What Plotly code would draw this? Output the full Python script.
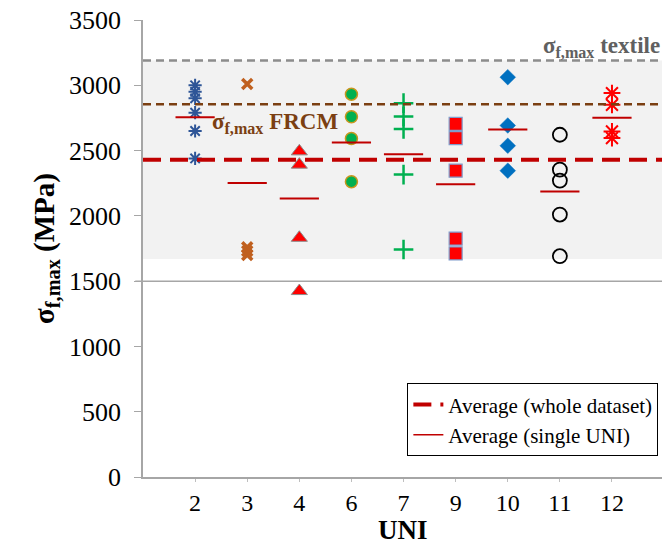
import plotly.graph_objects as go

uni_labels = ["2", "3", "4", "6", "7", "9", "10", "11", "12"]
uni_values = {
    "2": [3000, 2950, 2900, 2790, 2650, 2440],
    "3": [3010, 1760, 1730, 1700],
    "4": [2494, 2392, 1832, 1424],
    "6": [2932, 2759, 2593, 2262],
    "7": [2863, 2761, 2665, 2316, 1742],
    "9": [2705, 2596, 2346, 1826, 1712],
    "10": [3062, 2692, 2537, 2346],
    "11": [2621, 2354, 2270, 2010, 1691],
    "12": [2940, 2850, 2646, 2596],
}
uni_avg = [2756, 2252, 2132, 2562, 2471, 2242, 2662, 2186, 2751]
avg_whole = 2430
frcm_max = 2855
textile_max = 3190
band_low = 1670
ref_line = 1500

styles = {
    "2": dict(symbol="asterisk-open", size=11, color="#2E5597", line=dict(color="#2E5597", width=2)),
    "3": dict(symbol="x-thin-open", size=10, color="#C0601F", line=dict(color="#C0601F", width=3.5)),
    "4": dict(symbol="triangle-up", size=14, color="#FF0000", line=dict(color="#8C8C8C", width=1)),
    "6": dict(symbol="circle", size=12, color="#00B050", line=dict(color="#C8961E", width=1.5)),
    "7": dict(symbol="cross-thin-open", size=14, color="#00B050", line=dict(color="#00B050", width=2.5)),
    "9": dict(symbol="square", size=13, color="#FF0000", line=dict(color="#7F9CCB", width=1.2)),
    "10": dict(symbol="diamond", size=12, color="#0070C0", line=dict(color="#0070C0", width=0.5)),
    "11": dict(symbol="circle-open", size=14, color="#000000", line=dict(color="#000000", width=1.8)),
    "12": dict(symbol="asterisk-open", size=14, color="#FF0000", line=dict(color="#FF0000", width=2)),
}

serif = "Liberation Serif"
fig = go.Figure()

# background band and reference lines
fig.add_shape(type="rect", xref="paper", yref="y", x0=0, x1=1, y0=band_low, y1=textile_max,
              fillcolor="#F2F2F2", line=dict(width=0), layer="below")
fig.add_shape(type="line", xref="paper", yref="y", x0=-0.015, x1=1, y0=ref_line, y1=ref_line,
              line=dict(color="#A6A6A6", width=1.5), layer="below")
fig.add_shape(type="line", xref="paper", yref="y", x0=0, x1=1, y0=textile_max, y1=textile_max,
              line=dict(color="#8C8C8C", width=2.5, dash="8px,5px"))
fig.add_shape(type="line", xref="paper", yref="y", x0=0, x1=1, y0=frcm_max, y1=frcm_max,
              line=dict(color="#7B3F12", width=2.5, dash="8px,5px"))

for i, u in enumerate(uni_labels):
    vals = uni_values[u]
    st = styles[u]
    fig.add_trace(go.Scatter(
        x=[i + 1] * len(vals), y=vals, mode="markers", showlegend=False,
        marker=dict(symbol=st["symbol"], size=st["size"], color=st["color"], line=st["line"]),
    ))

# single-UNI averages
fig.add_trace(go.Scatter(
    x=list(range(1, len(uni_labels) + 1)), y=uni_avg, mode="markers", showlegend=False,
    marker=dict(symbol="line-ew", size=28, color="#C00000", line=dict(color="#C00000", width=2)),
))

# whole-dataset average line
fig.add_trace(go.Scatter(
    x=[0, 10], y=[avg_whole, avg_whole], mode="lines",
    name="Average (whole dataset)",
    line=dict(color="#C00000", width=4, dash="18px,9px"),
))
# legend entry for single UNI average
fig.add_trace(go.Scatter(
    x=[None], y=[None], mode="lines",
    name="Average (single UNI)",
    line=dict(color="#C00000", width=1.5),
))

fig.add_annotation(xref="paper", yref="y", x=1.0, y=3290, xanchor="right", yanchor="middle",
                   text="<b>σ<sub>f,max</sub> textile</b>", showarrow=False,
                   font=dict(family=serif, size=23, color="#606060"))
fig.add_annotation(xref="paper", yref="y", x=0.13, y=2715, xanchor="left", yanchor="middle",
                   text="<b>σ<sub>f,max</sub> FRCM</b>", showarrow=False,
                   font=dict(family=serif, size=23, color="#7B3F12"))
# x-axis title
fig.add_annotation(xref="paper", yref="paper", x=0.5, y=-0.116, xanchor="center", yanchor="middle",
                   text="<b>UNI</b>", showarrow=False,
                   font=dict(family=serif, size=27, color="#000000"))

fig.update_layout(
    width=662, height=544,
    margin=dict(l=143, r=0, t=20, b=67),
    paper_bgcolor="white", plot_bgcolor="white",
    font=dict(family=serif, color="#000000"),
    xaxis=dict(
        range=[0, 9.96], tickvals=list(range(1, 10)),
        ticktext=uni_labels,
        showgrid=False, zeroline=False, showline=True, linecolor="#A6A6A6", linewidth=1.5,
        ticks="outside", ticklen=3, tickcolor="#BFBFBF",
        tickfont=dict(family=serif, size=24, color="#000000"),
    ),
    yaxis=dict(
        range=[0, 3500], tickvals=[0, 500, 1000, 1500, 2000, 2500, 3000, 3500],
        showgrid=False, zeroline=False, showline=True, linecolor="#A6A6A6", linewidth=1.5,
        ticks="outside", ticklen=7, tickcolor="#A6A6A6",
        tickfont=dict(family=serif, size=26, color="#000000"),
        ticklabelstandoff=8,
        title=dict(text="<b>σ<sub>f,max</sub> (MPa)</b>", font=dict(family=serif, size=29, color="#000000"),
                   standoff=6),
    ),
    legend=dict(
        x=0.993, y=0.205, xanchor="right", yanchor="top",
        bgcolor="white", bordercolor="#000000", borderwidth=1,
        font=dict(family=serif, size=21, color="#000000"),
        tracegroupgap=0, itemwidth=30,
    ),
)

fig.write_html("out.html")
